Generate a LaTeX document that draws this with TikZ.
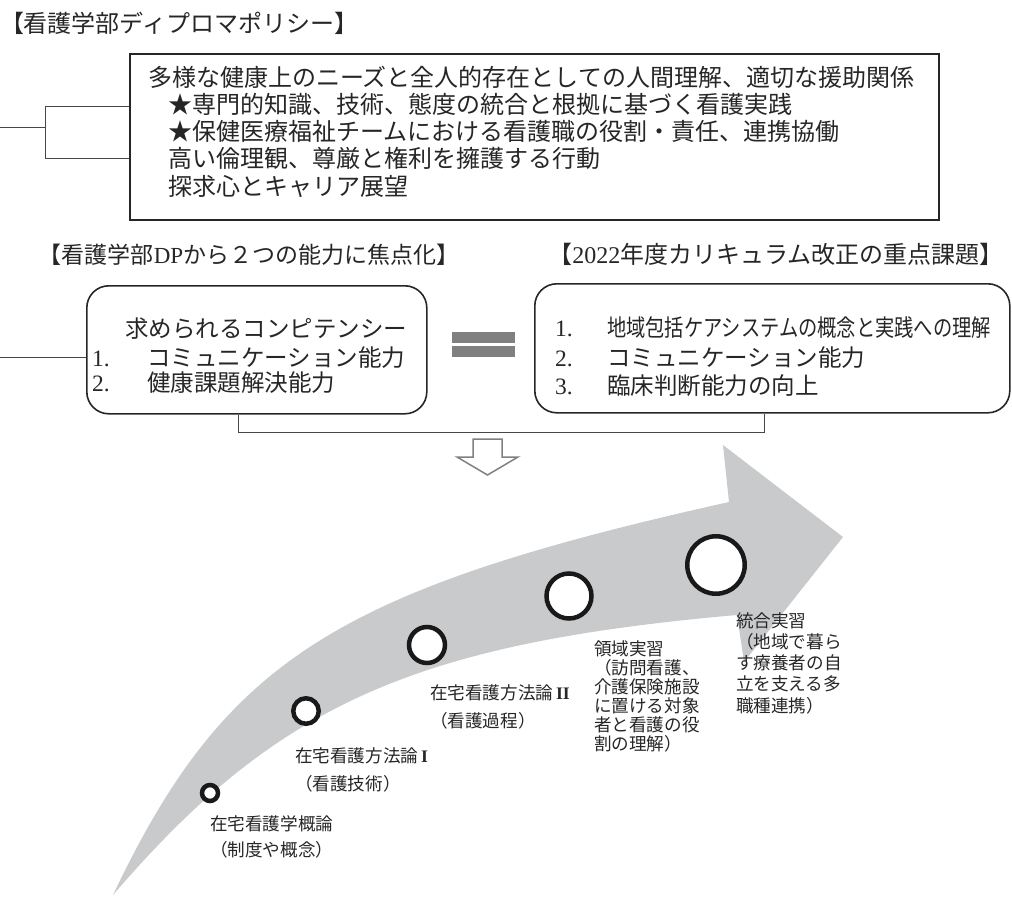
\documentclass[tikz,border=0pt]{standalone}
\usepackage{fontspec}
\usepackage{graphicx}
\newfontfamily\jp{Noto Sans CJK JP}
\newfontfamily\lat{Liberation Serif}
\definecolor{ink}{RGB}{38,38,38}
\definecolor{band}{RGB}{201,202,204}
\definecolor{eqgray}{RGB}{128,128,128}
\definecolor{dngray}{RGB}{128,128,128}
\begin{document}
\begin{tikzpicture}[x=1pt,y=-1pt,
  txt/.style={anchor=base west, inner sep=0, outer sep=0, text=ink, font=\jp\fontsize{24}{28}\selectfont},
  mid/.style={txt, font=\jp\fontsize{23.5}{28}\selectfont},
  lab/.style={anchor=base west, inner sep=0, outer sep=0, text=ink, font=\jp\fontsize{17.6}{20}\selectfont},
  frame/.style={draw=ink, line width=1.6pt, inner sep=0, anchor=north west},
  conn/.style={draw=ink!85, line width=1pt},
  ring/.style={circle, draw=black!90, fill=white, line width=4.5pt, inner sep=0},
  bar/.style={fill=eqgray, inner sep=0, anchor=north west, minimum width=63pt, minimum height=11pt}]
\useasboundingbox (0,0) rectangle (1012,897);

% ---------- top title and policy box ----------
\node[txt] (t1) at (0,32) {【看護学部ディプロマポリシー】};
\node[frame, minimum width=809pt, minimum height=166pt] (dp) at (129,53) {};
\node[txt] (dp1) at (148,86) {多様な健康上のニーズと全人的存在としての人間理解、適切な援助関係};
\node[txt] (dp2) at (168,113) {★専門的知識、技術、態度の統合と根拠に基づく看護実践};
\node[txt] (dp3) at (168,140.5) {★保健医療福祉チームにおける看護職の役割・責任、連携協働};
\node[txt] (dp4) at (168,167.5) {高い倫理観、尊厳と権利を擁護する行動};
\node[txt] (dp5) at (168,195) {探求心とキャリア展望};

\coordinate (b0) at (0,127);
\coordinate (bj) at (45,127);
\coordinate (bt) at (45,106);
\coordinate (bb) at (45,158);
\draw[conn] (b0) -- (bj);
\draw[conn] (bt) -- (bb);
\draw[conn] (bt) -- (bt -| dp.west);
\draw[conn] (bb) -- (bb -| dp.west);

% ---------- middle titles ----------
\node[txt, anchor=base, font=\jp\fontsize{23}{28}\selectfont] (t2) at (249,263) {【看護学部{\lat DP}から２つの能力に焦点化】};
\node[txt, anchor=base] (t3) at (776,263) {【{\lat 2022}年度カリキュラム改正の重点課題】};

% ---------- competency box ----------
\node[frame, rounded corners=22pt, minimum width=340pt, minimum height=128pt] (comp) at (86,285) {};
\node[mid] (cp0) at (125,337) {求められるコンピテンシー};
\node[mid] (cp1n) at (92,366) {\lat 1.};
\node[mid] (cp1) at (147,366) {コミュニケーション能力};
\node[mid] (cp2n) at (92,391) {\lat 2.};
\node[mid] (cp2) at (147,391) {健康課題解決能力};

\coordinate (ml) at (0,357);
\draw[conn] (ml) -- (ml -| comp.west);

% ---------- equal sign ----------
\node[bar] (eqa) at (452,332) {};
\node[bar] (eqb) at (452,346) {};

% ---------- curriculum box ----------
\node[frame, rounded corners=22pt, minimum width=475pt, minimum height=129pt] (crp) at (534,283) {};
\node[mid] (k1n) at (555,336) {\lat 1.};
\node[mid] (k1) at (607,336) {\scalebox{0.82}[1]{地域包括ケアシステムの概念と実践への理解}};
\node[mid] (k2n) at (555,366) {\lat 2.};
\node[mid] (k2) at (607,366) {コミュニケーション能力};
\node[mid] (k3n) at (555,394) {\lat 3.};
\node[mid] (k3) at (607,394) {臨床判断能力の向上};

% ---------- joining bracket and hollow arrow ----------
\coordinate (jl) at (238,432);
\coordinate (jr) at (764,432);
\draw[conn] (jl |- comp.south) -- (jl) -- (jr) -- (jr |- crp.south);
\draw[dngray, line width=1.5pt, line join=miter]
  (473,439) -- (502,439) -- (502,457) -- (518,457) -- (487.5,475) -- (457,457) -- (473,457) -- cycle;

% ---------- big curved arrow ----------
\fill[band] (113,895) .. controls (224.5,660.5) and (335.4,589.7) .. (729,502)
  -- (723,445) -- (843,537) -- (744,662) -- (737,615)
  .. controls (413,643.4) and (276,705) .. (113,895) -- cycle;

% ---------- milestones ----------
\node[ring, minimum size=16pt] (m1) at (210,793) {};
\node[ring, minimum size=25.5pt] (m2) at (306,711) {};
\node[ring, minimum size=36pt] (m3) at (427,645) {};
\node[ring, minimum size=45pt] (m4) at (569,596) {};
\node[ring, minimum size=57.5pt] (m5) at (716,565) {};

\node[lab] (a1) at (210,830) {在宅看護学概論};
\node[lab] (a2) at (210,856) {（制度や概念）};
\node[lab] (b1) at (295,762) {在宅看護方法論\,{\lat\bfseries I}};
\node[lab] (b2) at (295,790) {（看護技術）};
\node[lab] (c1) at (430,699) {在宅看護方法論\,{\lat\bfseries II}};
\node[lab] (c2) at (430,727) {（看護過程）};
\foreach \t [count=\i] in {{領域実習},{（訪問看護、},{介護保険施設},{に置ける対象},{者と看護の役},{割の理解）}}
  \node[lab] (d\i) at (594,{655+19*(\i-1)}) {\t};
\foreach \t [count=\i] in {{統合実習},{（地域で暮ら},{す療養者の自},{立を支える多},{職種連携）}}
  \node[lab] (e\i) at (736,{627+21.25*(\i-1)}) {\t};
\end{tikzpicture}
\end{document}
